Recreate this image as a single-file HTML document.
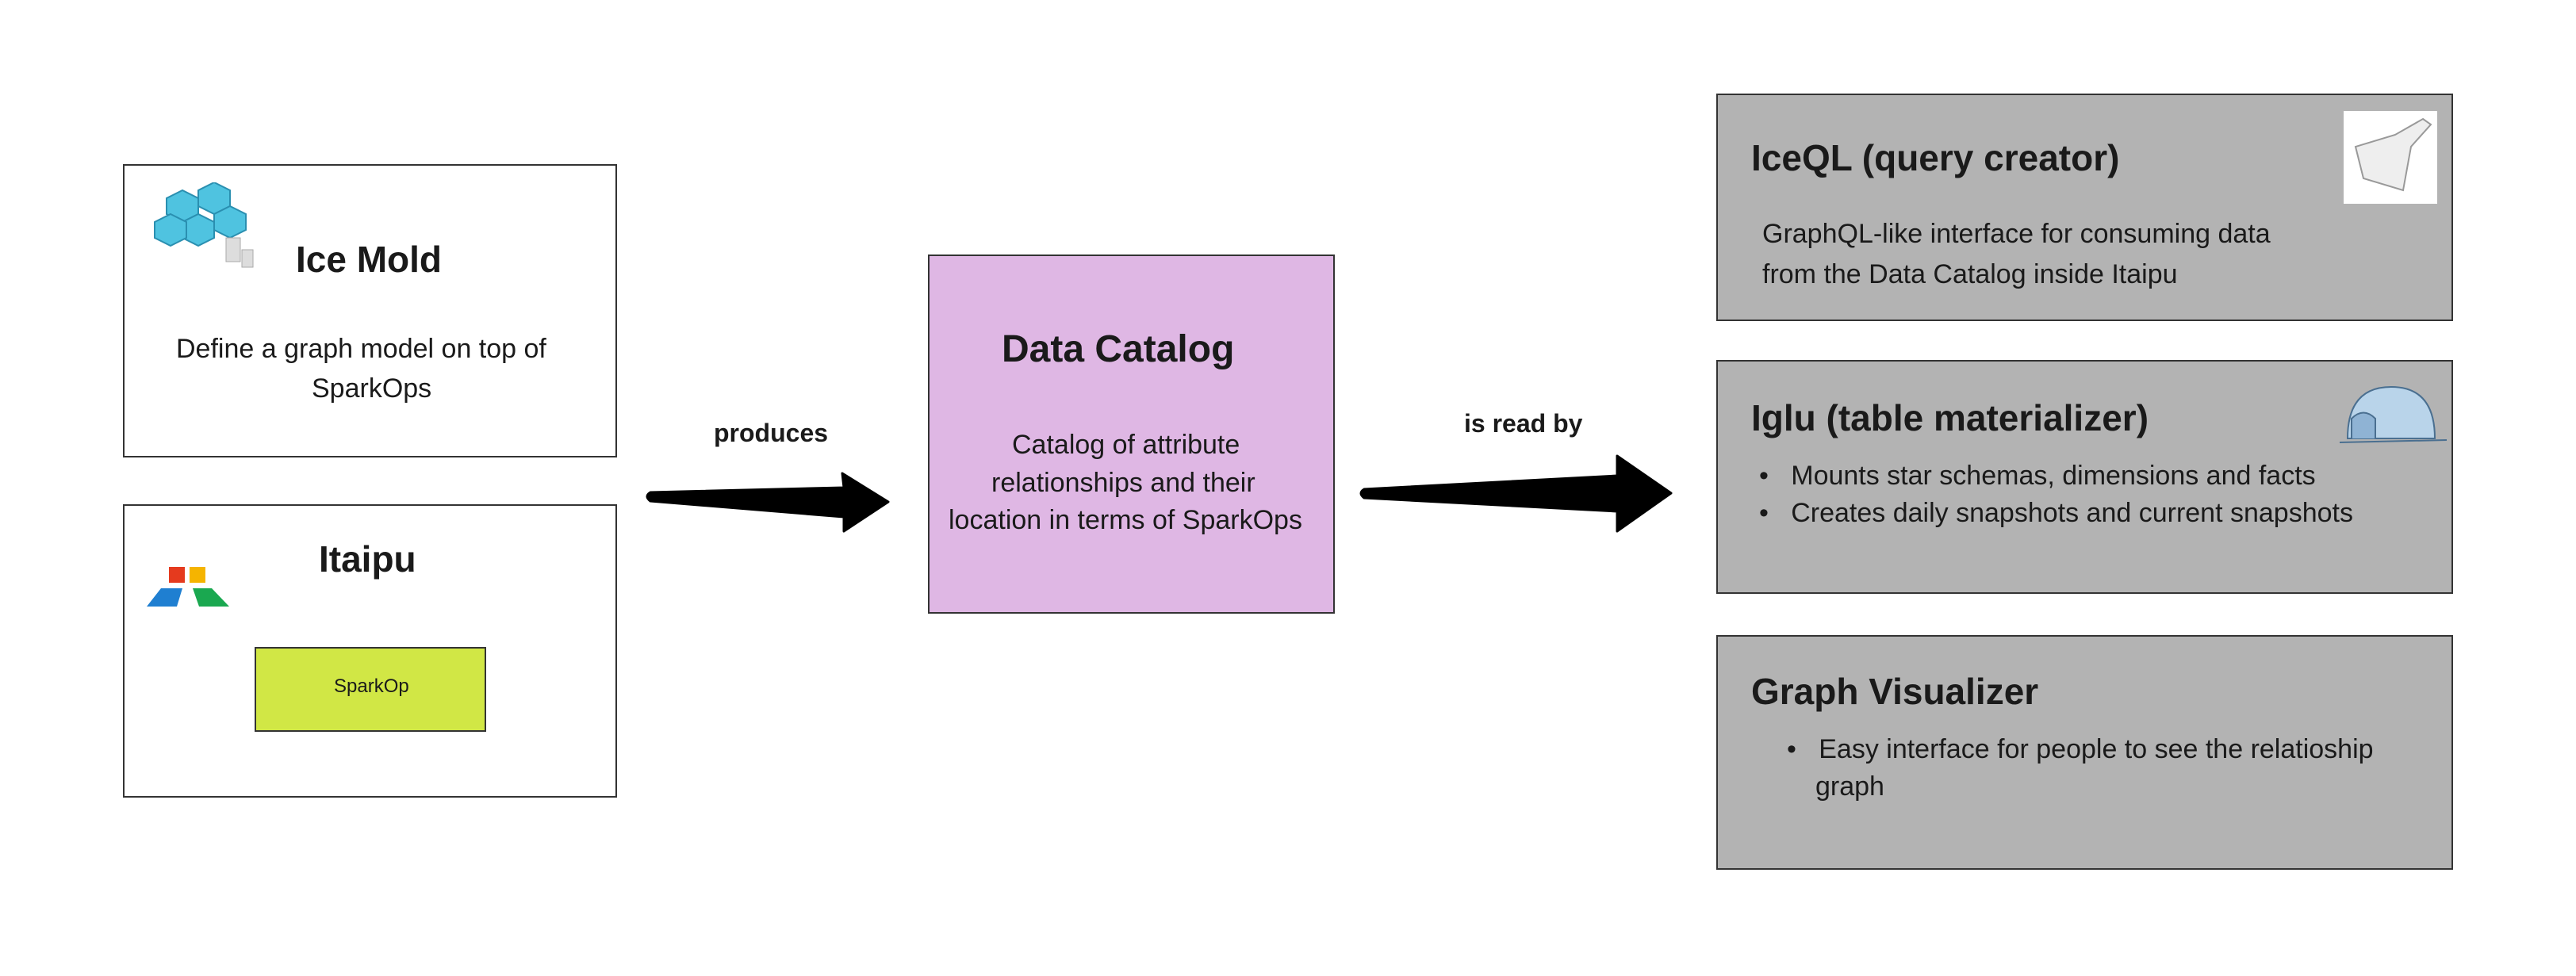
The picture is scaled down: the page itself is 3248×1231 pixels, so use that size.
<!DOCTYPE html>
<html><head><meta charset="utf-8"><style>
body{margin:0;width:3248px;height:1231px;background:#fff;position:relative;overflow:hidden;font-family:"Liberation Sans",sans-serif;color:#1a1a1a}
.b{position:absolute;box-sizing:border-box;border:2px solid #333}
.t{position:absolute;white-space:nowrap}
.h{font-weight:bold;font-size:46px}
.p{font-size:34px;line-height:50px}
</style></head><body>
<div class="b" style="left:155px;top:207px;width:623px;height:370px;background:#fff"></div>
<svg style="position:absolute;left:190px;top:230px" width="150" height="120"><g fill="#4fc3e0" stroke="#2a8fb0" stroke-width="2"><polygon points="20,20 40,10 60,20 60,40 40,50 20,40"/><polygon points="60,10 80,0 100,10 100,30 80,40 60,30"/><polygon points="40,50 60,40 80,50 80,70 60,80 40,70"/><polygon points="80,40 100,30 120,40 120,60 100,70 80,60"/><polygon points="5,50 25,40 45,50 45,70 25,80 5,70"/></g><g fill="#ddd" stroke="#aaa"><rect x="95" y="70" width="18" height="30"/><rect x="115" y="85" width="14" height="22"/></g></svg>
<div class="t h" style="left:373px;top:300px">Ice Mold</div>
<div class="t p" style="left:222px;top:415px">Define a graph model on top of</div>
<div class="t p" style="left:393px;top:465px">SparkOps</div>

<div class="b" style="left:155px;top:636px;width:623px;height:370px;background:#fff"></div>
<svg style="position:absolute;left:185px;top:715px" width="110" height="50"><rect x="28" y="0" width="20" height="20" fill="#e53a1e"/><rect x="54" y="0" width="20" height="20" fill="#f5b400"/><polygon points="0,50 18,27 45,27 38,50" fill="#1f7fd1"/><polygon points="58,27 82,27 104,50 66,50" fill="#1aa850"/></svg>
<div class="t h" style="left:402px;top:678px">Itaipu</div>
<div class="b" style="left:321px;top:816px;width:292px;height:107px;background:#d1e745"></div>
<div class="t" style="left:421px;top:852px;font-size:24px">SparkOp</div>

<div class="b" style="left:1170px;top:321px;width:513px;height:453px;background:#dfb7e4"></div>
<div class="t h" style="left:1263px;top:413px;font-size:48px">Data Catalog</div>
<div class="t p" style="left:1276px;top:536px">Catalog of attribute</div>
<div class="t p" style="left:1250px;top:584px">relationships and their</div>
<div class="t p" style="left:1196px;top:631px">location in terms of SparkOps</div>

<div class="t" style="left:900px;top:528px;font-size:32px;font-weight:bold">produces</div>
<div class="t" style="left:1846px;top:516px;font-size:32px;font-weight:bold">is read by</div>

<svg style="position:absolute;left:0;top:0" width="3248" height="1231">
<path d="M820,621 L1064,615 L1062,597 L1120,633 L1064,670 L1064,652 L820,632 Q812,626 820,621Z" fill="#000" stroke="#000" stroke-width="3" stroke-linejoin="round"/>
<path d="M1720,617 L2039,600 L2039,575 L2107,622 L2039,670 L2039,645 L1720,628 Q1712,622 1720,617Z" fill="#000" stroke="#000" stroke-width="3" stroke-linejoin="round"/>
</svg>

<div class="b" style="left:2164px;top:118px;width:929px;height:287px;background:#b3b3b3"></div>
<div style="position:absolute;left:2955px;top:140px;width:118px;height:117px;background:#fff"></div>
<svg style="position:absolute;left:2960px;top:145px" width="110" height="105"><path d="M95,5 L105,12 L80,40 L70,95 L20,80 L10,40 L60,25Z" fill="#eee" stroke="#999" stroke-width="2"/></svg>
<div class="t h" style="left:2208px;top:172px">IceQL (query creator)</div>
<div class="t p" style="left:2222px;top:270px">GraphQL-like interface for consuming data</div>
<div class="t p" style="left:2222px;top:321px">from the Data Catalog inside Itaipu</div>

<div class="b" style="left:2164px;top:454px;width:929px;height:295px;background:#b3b3b3"></div>
<svg style="position:absolute;left:2950px;top:483px" width="135" height="80"><path d="M10,70 Q10,5 65,5 Q120,5 120,70Z" fill="#b9d4ea" stroke="#4a6f90" stroke-width="2"/><path d="M15,70 L15,45 Q30,30 45,45 L45,70" fill="#8fb3d4" stroke="#4a6f90" stroke-width="2"/><path d="M0,75 L135,72" stroke="#4a6f90" stroke-width="2"/></svg>
<div class="t h" style="left:2208px;top:500px">Iglu (table materializer)</div>
<div class="t p" style="left:2218px;top:575px">•&nbsp;&nbsp;&nbsp;Mounts star schemas, dimensions and facts</div>
<div class="t p" style="left:2218px;top:622px">•&nbsp;&nbsp;&nbsp;Creates daily snapshots and current snapshots</div>

<div class="b" style="left:2164px;top:801px;width:929px;height:296px;background:#b3b3b3"></div>
<div class="t h" style="left:2208px;top:845px">Graph Visualizer</div>
<div class="t p" style="left:2253px;top:920px">•&nbsp;&nbsp;&nbsp;Easy interface for people to see the relatioship</div>
<div class="t p" style="left:2289px;top:967px">graph</div>
</body></html>
